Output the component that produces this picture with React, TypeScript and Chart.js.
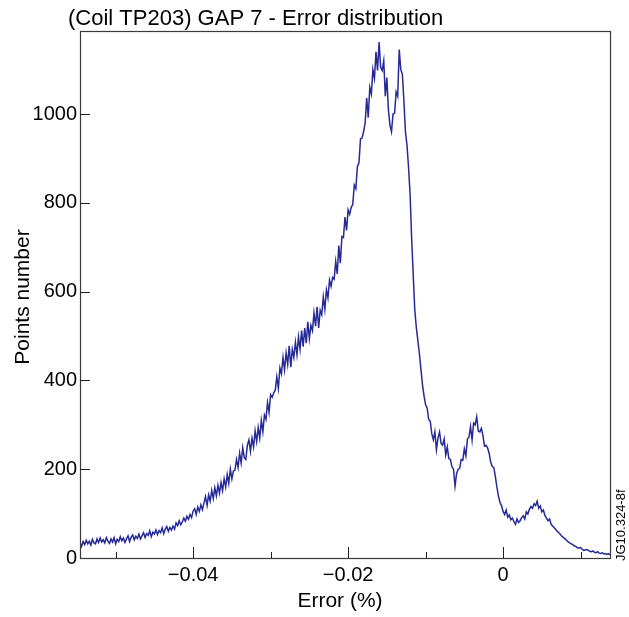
import { useEffect, useRef } from 'react';
import { Chart, registerables } from 'chart.js';

Chart.register(...registerables);

const FONT = '"Liberation Sans", Arial, Helvetica, sans-serif';

const TITLE = '(Coil TP203) GAP 7 - Error distribution';
const X_TITLE = 'Error (%)';
const Y_TITLE = 'Points number';
const SIDE_NOTE = 'JG10.324-8f';

const X_MIN = -0.0546;
const X_MAX = 0.0138;
const Y_MIN = 0;
const Y_MAX = 1187;

const X_MAJOR_TICKS = [-0.04, -0.02, 0];
const X_MINOR_TICKS = [-0.05, -0.03, -0.01, 0.01];
const Y_TICKS = [0, 200, 400, 600, 800, 1000];

const BIN_START = -0.0546;
const BIN_WIDTH = 0.0002;

const COUNTS = [
  34, 26, 37, 30, 40, 32, 38, 29, 42, 34,
  32, 43, 35, 45, 36, 41, 34, 46, 38, 33,
  43, 36, 46, 32, 42, 37, 48, 39, 45, 35,
  43, 50, 37, 47, 52, 41, 49, 44, 54, 43,
  50, 57, 46, 55, 51, 61, 48, 58, 54, 63,
  53, 62, 57, 68, 55, 65, 71, 60, 69, 63,
  72, 65, 79, 73, 84, 75, 81, 90, 83, 94,
  87, 98, 91, 106, 111, 98, 115, 105, 120, 109,
  124, 138, 118, 142, 128, 152, 134, 158, 140, 164,
  146, 170, 152, 178, 160, 188, 168, 200, 178, 196,
  198, 222, 204, 236, 214, 248, 226, 222, 254, 266,
  240, 270, 250, 286, 262, 294, 270, 310, 284, 322,
  312, 350, 328, 368, 362, 372, 378, 408, 382, 428,
  415, 452, 424, 462, 436, 478, 430, 470, 452, 486,
  458, 498, 470, 512, 476, 518, 484, 532, 494, 524,
  512, 552, 522, 566, 518, 558, 548, 588, 560, 604,
  586, 626, 612, 632, 628, 668, 640, 704, 664, 724,
  722, 768, 738, 784, 774, 790, 796, 840, 832, 882,
  890, 944, 946, 960, 980, 1036, 992, 1060, 1045, 1100,
  1080, 1140, 1098, 1162, 1105, 1098, 1120, 1040, 1082, 1010,
  975, 960, 1000, 1002, 1050, 1040, 1145, 1100, 1090, 1030,
  960, 930, 880, 820, 720, 640, 560, 520, 490, 460,
  425, 390, 365, 345, 338, 312, 308, 280, 266, 284,
  244, 270, 284, 258, 254, 268, 232, 250, 224, 222,
  206, 200, 162, 190, 200, 202, 222, 220, 246, 230,
  268, 272, 296, 266, 304, 300, 318, 286, 284, 292,
  276, 252, 254, 248, 236, 216, 206, 204, 184, 160,
  140, 125, 118, 105, 98, 108, 92, 97, 86, 90,
  82, 76, 88, 80, 84, 91, 95, 88, 104, 99,
  110, 116, 112, 122, 118, 128, 112, 117, 104, 108,
  96, 90, 84, 88, 76, 72, 68, 64, 60, 57,
  53, 49, 46, 43, 40, 36, 34, 32, 30, 27,
  26, 23, 22, 24, 20, 17, 18, 19, 17, 15,
  14, 16, 13, 12, 14, 11, 10, 12, 9, 10,
  8, 10, 7,
];

const LINE_COLOR = 'rgb(38, 42, 150)';

export default function App() {
  const ref = useRef<HTMLCanvasElement>(null);

  useEffect(() => {
    document.body.style.margin = '0';
    const canvas = ref.current;
    if (!canvas) return;

    const points = COUNTS.map((c, i) => ({ x: BIN_START + i * BIN_WIDTH, y: c }));

    const framePlugin = {
      id: 'framePlugin',
      afterDraw(chart: any) {
        const { ctx, chartArea: a, scales } = chart;
        const xs = scales.x;
        const ys = scales.y;
        ctx.save();
        ctx.strokeStyle = '#3a3a3a';
        ctx.lineWidth = 1.2;
        ctx.strokeRect(a.left + 0.5, a.top + 0.5, a.right - a.left, a.bottom - a.top);
        ctx.strokeStyle = '#222';
        ctx.lineWidth = 1;
        ctx.beginPath();
        X_MAJOR_TICKS.forEach((v) => {
          const px = Math.round(xs.getPixelForValue(v)) + 0.5;
          ctx.moveTo(px, a.bottom);
          ctx.lineTo(px, a.bottom - 11);
        });
        X_MINOR_TICKS.forEach((v) => {
          const px = Math.round(xs.getPixelForValue(v)) + 0.5;
          ctx.moveTo(px, a.bottom);
          ctx.lineTo(px, a.bottom - 6);
        });
        Y_TICKS.forEach((v) => {
          if (v === 0) return;
          const py = Math.round(ys.getPixelForValue(v)) + 0.5;
          ctx.moveTo(a.left, py);
          ctx.lineTo(a.left + 10, py);
        });
        ctx.stroke();

        ctx.fillStyle = '#000';
        ctx.font = `22px ${FONT}`;
        ctx.textAlign = 'left';
        ctx.textBaseline = 'alphabetic';
        ctx.fillText(TITLE, 68, 25);

        ctx.textAlign = 'center';
        ctx.font = `21px ${FONT}`;
        ctx.fillText(X_TITLE, 340, 607);

        ctx.save();
        ctx.translate(29, 297);
        ctx.rotate(-Math.PI / 2);
        ctx.textAlign = 'center';
        ctx.fillText(Y_TITLE, 0, 0);
        ctx.restore();

        ctx.save();
        ctx.translate(625, 561);
        ctx.rotate(-Math.PI / 2);
        ctx.font = `13px ${FONT}`;
        ctx.textAlign = 'left';
        ctx.fillText(SIDE_NOTE, 0, 0);
        ctx.restore();
        ctx.restore();
      },
    };

    const chart = new Chart(canvas, {
      type: 'line',
      data: {
        datasets: [
          {
            data: points,
            borderColor: LINE_COLOR,
            borderWidth: 1.5,
            pointRadius: 0,
            tension: 0,
            fill: false,
          },
        ],
      },
      options: {
        animation: false,
        responsive: false,
        maintainAspectRatio: false,
        layout: { padding: { top: 31, right: 19, left: 0, bottom: 0 } },
        plugins: { legend: { display: false }, tooltip: { enabled: false }, title: { display: false } },
        scales: {
          x: {
            type: 'linear',
            min: X_MIN,
            max: X_MAX,
            afterBuildTicks: (s: any) => {
              s.ticks = X_MAJOR_TICKS.map((v) => ({ value: v }));
            },
            afterFit: (s: any) => {
              s.height = 59;
            },
            grid: { display: false, drawTicks: false },
            border: { display: false },
            ticks: {
              padding: 5,
              color: '#000',
              maxRotation: 0,
              font: { family: FONT, size: 20 },
              callback: (v: any) => (v === 0 ? '0' : (v < 0 ? '\u2212' : '') + String(Math.abs(Number(v)))),
            },
          },
          y: {
            type: 'linear',
            min: Y_MIN,
            max: Y_MAX,
            afterBuildTicks: (s: any) => {
              s.ticks = Y_TICKS.map((v) => ({ value: v }));
            },
            afterFit: (s: any) => {
              s.width = 80;
            },
            grid: { display: false, drawTicks: false },
            border: { display: false },
            ticks: {
              padding: 3,
              color: '#000',
              font: { family: FONT, size: 20 },
              callback: (v: any) => String(v),
            },
          },
        },
      },
      plugins: [framePlugin],
    });

    return () => chart.destroy();
  }, []);

  return <canvas ref={ref} width={629} height={617} style={{ display: 'block' }} />;
}
